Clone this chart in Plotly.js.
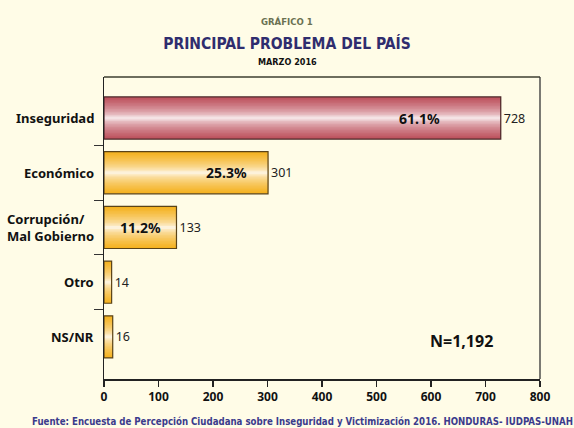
<!DOCTYPE html>
<html>
<head>
<meta charset="utf-8">
<script src="https://cdn.plot.ly/plotly-3.0.1.min.js"></script>
<style>html,body{margin:0;padding:0;background:#FFFCE7;}#chart{width:574px;height:428px;}</style>
</head>
<body>
<div id="chart"></div>
<script>
// ---- data ----
const categories = ['Inseguridad', 'Económico', 'Corrupción/<br>Mal Gobierno', 'Otro', 'NS/NR'];
const counts = [728, 301, 133, 14, 16];
const percents = [61.1, 25.3, 11.2, null, null];
const xTicks = [0, 100, 200, 300, 400, 500, 600, 700, 800];
const totalLabel = 'N=1,192';

// ---- style ----
const idx = categories.map((c, i) => i);
const edgeColors = idx.map(i => i === 0 ? [188, 78, 90] : [244, 176, 28]);
const lineColors = idx.map(i => i === 0 ? '#4a2628' : '#5a4318');
const pctShift = [-81, -42, -36, 0, 0];
const BAR_W = 0.77;
const N_LAYERS = 14;
const COND = 'DejaVu Sans Condensed';

function mix(c, t) {
  const r = Math.round(255 + (c[0] - 255) * t);
  const g = Math.round(255 + (c[1] - 255) * t);
  const b = Math.round(255 + (c[2] - 255) * t);
  return 'rgb(' + r + ',' + g + ',' + b + ')';
}

const traces = [];
for (let k = 0; k < N_LAYERS; k++) {
  const d = 1 - (k + 0.5) / N_LAYERS;
  const t = Math.min(1, Math.pow(d, 0.55));
  traces.push({
    type: 'bar', orientation: 'h',
    x: counts, y: idx,
    width: BAR_W * (1 - k / N_LAYERS),
    marker: { color: edgeColors.map(c => mix(c, t)), line: { width: 0 } },
    hoverinfo: 'skip', showlegend: false
  });
}
traces.push({
  type: 'bar', orientation: 'h',
  x: counts, y: idx, width: BAR_W,
  marker: { color: 'rgba(0,0,0,0)', line: { color: lineColors, width: 1.2 } },
  text: counts.map(String), textposition: 'outside', cliponaxis: false,
  textfont: { family: 'Noto Sans', size: 12.5, color: '#222' },
  hoverinfo: 'skip', showlegend: false
});

const annotations = [];
categories.forEach((c, i) => {
  annotations.push({
    xref: 'paper', yref: 'y', x: -0.019, y: i, xanchor: 'right', yanchor: 'middle',
    text: c, showarrow: false, align: 'left',
    font: { family: 'Noto Sans', size: 13, color: '#111', weight: 'bold' }
  });
  if (percents[i] !== null) {
    annotations.push({
      xref: 'x', yref: 'y', x: counts[i], y: i, xshift: pctShift[i],
      xanchor: 'center', yanchor: 'middle',
      text: percents[i].toFixed(1) + '%', showarrow: false,
      font: { family: 'Noto Sans', size: 14, color: '#111', weight: 'bold' }
    });
  }
});
annotations.push({
  xref: 'paper', yref: 'paper', x: 0.42, y: 1.185, xanchor: 'center', yanchor: 'middle',
  text: 'GRÁFICO 1', showarrow: false,
  font: { family: COND, size: 9.5, color: '#6b7152', weight: 'bold' }
});
annotations.push({
  xref: 'paper', yref: 'paper', x: 0.42, y: 1.050, xanchor: 'center', yanchor: 'middle',
  text: 'MARZO 2016', showarrow: false,
  font: { family: COND, size: 9, color: '#111', weight: 'bold' }
});
annotations.push({
  xref: 'paper', yref: 'paper', x: 0.819, y: 0.126, xanchor: 'center', yanchor: 'middle',
  text: totalLabel, showarrow: false,
  font: { family: 'Noto Sans', size: 16, color: '#111', weight: 'bold' }
});
annotations.push({
  xref: 'paper', yref: 'paper', x: 0.455, y: -0.142, xanchor: 'center', yanchor: 'middle',
  text: 'Fuente: Encuesta de Percepción Ciudadana sobre Inseguridad y Victimización 2016. HONDURAS- IUDPAS-UNAH',
  showarrow: false,
  font: { family: COND, size: 9.6, color: '#3b3b8c', weight: 'bold' }
});

const layout = {
  width: 574, height: 428,
  margin: { l: 104, r: 34, t: 77, b: 49, pad: 0 },
  paper_bgcolor: '#FFFCE7', plot_bgcolor: '#FFFCE7',
  font: { family: 'Noto Sans', color: '#111' },
  barmode: 'overlay',
  title: {
    text: 'PRINCIPAL PROBLEMA DEL PAÍS',
    x: 287 / 574, y: 1 - 44 / 428, xanchor: 'center', yanchor: 'middle',
    font: { family: COND, size: 15.5, color: '#2f2d6e', weight: 'bold' }
  },
  xaxis: {
    range: [0, 800], tickvals: xTicks, ticks: 'outside', ticklen: 6, tickwidth: 1.2,
    tickcolor: '#222', showline: true, linecolor: '#222', linewidth: 1.5,
    showgrid: false, zeroline: false,
    tickfont: { family: 'Noto Sans', size: 12, color: '#111', weight: 'bold' }
  },
  yaxis: {
    range: [4.77, -0.75], tickvals: [0.5, 1.5, 2.5, 3.5], showticklabels: false,
    ticks: 'outside', ticklen: 9, tickwidth: 1.2, tickcolor: '#333',
    showline: true, linecolor: '#222', linewidth: 1.5,
    showgrid: false, zeroline: false
  },
  shapes: [
    { type: 'line', xref: 'paper', yref: 'paper', x0: 0, x1: 1, y0: 1, y1: 1, line: { color: '#6e6e5e', width: 2 } },
    { type: 'line', xref: 'paper', yref: 'paper', x0: 1, x1: 1, y0: 0, y1: 1, line: { color: '#333', width: 1.3 } }
  ],
  annotations: annotations
};

Plotly.newPlot('chart', traces, layout, { displayModeBar: false, staticPlot: true });
</script>
</body>
</html>
